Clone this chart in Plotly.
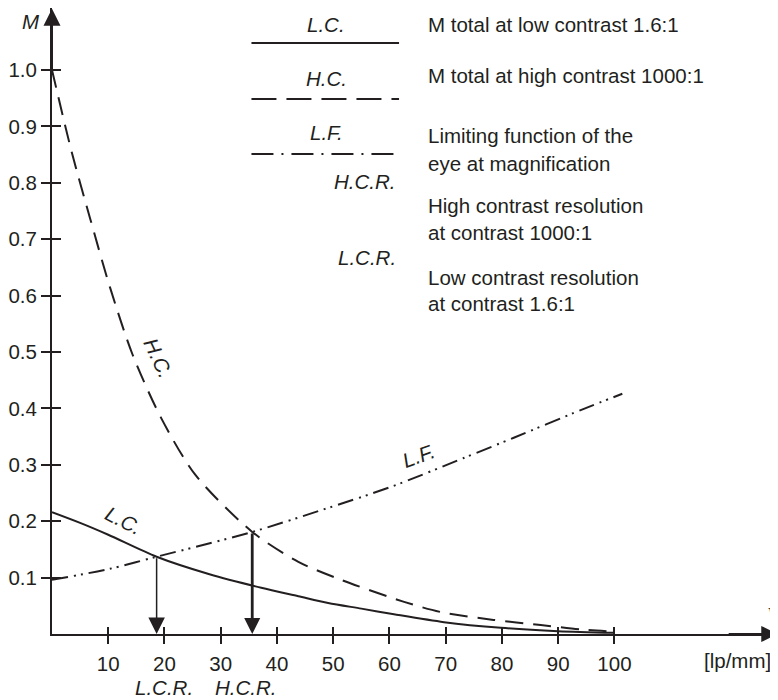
import plotly.graph_objects as go

# ---------------- data ----------------
# L.C.: M total at low contrast 1.6:1
lc_x = [0, 5, 10, 18.6, 28, 37.2, 43.8, 49.1, 55, 60.8, 69.7, 79.8, 90, 100]
lc_y = [0.216, 0.197, 0.176, 0.137, 0.106, 0.082, 0.067, 0.055, 0.045, 0.035, 0.021, 0.011, 0.005, 0.002]

# H.C.: M total at high contrast 1000:1
hc_x = [0, 3.49, 6.8, 10.3, 14.3, 19.3, 25.5, 35.6, 43.8, 51.4, 62.6, 69.1, 78.5, 86.9, 94, 100]
hc_y = [1.0, 0.855, 0.736, 0.615, 0.496, 0.385, 0.282, 0.181, 0.128, 0.096, 0.057, 0.039, 0.025, 0.016, 0.008, 0.004]

# L.F.: limiting function of the eye at magnification
lf_x = [0, 10, 18.6, 35.6, 48, 60.3, 73.2, 82.1, 94, 101.4]
lf_y = [0.096, 0.115, 0.137, 0.181, 0.220, 0.261, 0.312, 0.348, 0.397, 0.426]

# resolution limits (intersections)
lcr_x, lcr_y = 18.6, 0.137
hcr_x, hcr_y = 35.6, 0.181

x_ticks = [10, 20, 30, 40, 50, 60, 70, 80, 90, 100]
y_ticks = [0.1, 0.2, 0.3, 0.4, 0.5, 0.6, 0.7, 0.8, 0.9, 1.0]
y_tick_text = ["0.1", "0.2", "0.3", "0.4", "0.5", "0.6", "0.7", "0.8", "0.9", "1.0"]

legend_rows = [
    ("L.C.", "solid", ["M total at low contrast 1.6:1"]),
    ("H.C.", "dash", ["M total at high contrast 1000:1"]),
    ("L.F.", "dashdot", ["Limiting function of the", "eye at magnification"]),
    ("H.C.R.", None, ["High contrast resolution", "at contrast 1000:1"]),
    ("L.C.R.", None, ["Low contrast resolution", "at contrast 1.6:1"]),
]

# ---------------- layout geometry ----------------
OFF = 8                      # page body margin in the browser
W, H = 778 - OFF, 700 - OFF  # figure size
L, R, T, B = 50 - OFF, 0, 0, 700 - 634
X_MAX = (W - L - R) / 5.64
Y_MAX = (H - T - B) / 564.0
INK = "#231f20"
FONT = "Liberation Sans, Arial, Helvetica, sans-serif"
FS = 20.5


def pp(px, py):
    """screen pixel -> paper coordinates"""
    fx, fy = px - OFF, py - OFF
    return (fx - L) / (W - L - R), (H - B - fy) / (H - T - B)


fig = go.Figure()

fig.add_trace(go.Scatter(x=lc_x, y=lc_y, mode="lines", line=dict(color=INK, width=2, shape="spline", smoothing=0.8),
                         hoverinfo="skip", showlegend=False, cliponaxis=False))
fig.add_trace(go.Scatter(x=hc_x, y=hc_y, mode="lines", line=dict(color=INK, width=2, dash="18px,10px", shape="spline", smoothing=0.8),
                         hoverinfo="skip", showlegend=False, cliponaxis=False))
fig.add_trace(go.Scatter(x=lf_x, y=lf_y, mode="lines",
                         line=dict(color=INK, width=2, dash="16px,6px,2px,5px,2px,6px", shape="spline", smoothing=0.8),
                         hoverinfo="skip", showlegend=False, cliponaxis=False))
# invisible trace to realise the overlaid tick axes
fig.add_trace(go.Scatter(x=[lc_x[0]], y=[lc_y[0]], xaxis="x2", yaxis="y2", mode="markers",
                         marker=dict(opacity=0), hoverinfo="skip", showlegend=False))

axis_common = dict(showgrid=False, zeroline=False, tickcolor=INK, tickwidth=2,
                   tickfont=dict(family=FONT, size=FS, color=INK))
fig.update_layout(
    width=W, height=H, autosize=False,
    margin=dict(l=L, r=R, t=T, b=B, pad=0),
    plot_bgcolor="white", paper_bgcolor="white",
    xaxis=dict(range=[0, X_MAX], tickvals=x_ticks, ticktext=[str(v) for v in x_ticks],
               ticks="outside", ticklen=8, showline=True, linecolor=INK, linewidth=2,
               ticklabelstandoff=2, **axis_common),
    yaxis=dict(range=[0, Y_MAX], tickvals=y_ticks, ticktext=y_tick_text,
               ticks="outside", ticklen=9, showline=True, linecolor=INK, linewidth=2,
               ticklabelstandoff=0, **axis_common),
    xaxis2=dict(range=[0, X_MAX], overlaying="x", anchor="y2", side="bottom", tickvals=x_ticks,
                ticks="inside", ticklen=7, showticklabels=False, showline=False, **axis_common),
    yaxis2=dict(range=[0, Y_MAX], overlaying="y", anchor="x2", side="left", tickvals=y_ticks,
                ticks="inside", ticklen=9, showticklabels=False, showline=False, **axis_common),
)

ann = []
# axis arrowheads
ann.append(dict(x=0, y=Y_MAX * 0.999, ax=0, ay=Y_MAX * 0.9, xref="x", yref="y", axref="x", ayref="y",
                showarrow=True, arrowhead=2, arrowsize=1.7, arrowwidth=2, arrowcolor=INK, text=""))
ann.append(dict(x=X_MAX * 0.999, y=0, ax=X_MAX * 0.93, ay=0, xref="x", yref="y", axref="x", ayref="y",
                showarrow=True, arrowhead=2, arrowsize=1.6, arrowwidth=2, arrowcolor=INK, text=""))
# resolution arrows
ann.append(dict(x=lcr_x, y=0, ax=lcr_x, ay=lcr_y, xref="x", yref="y", axref="x", ayref="y",
                showarrow=True, arrowhead=2, arrowsize=2.2, arrowwidth=1.5, arrowcolor=INK, text=""))
ann.append(dict(x=hcr_x, y=0, ax=hcr_x, ay=hcr_y, xref="x", yref="y", axref="x", ayref="y",
                showarrow=True, arrowhead=2, arrowsize=1.15, arrowwidth=2.8, arrowcolor=INK, text=""))


def text(px, py, s, anchor="center", italic=False, angle=0, size=FS, family=FONT):
    x, y = pp(px, py)
    ann.append(dict(x=x, y=y, xref="paper", yref="paper", text=("<i>%s</i>" % s) if italic else s,
                    showarrow=False, xanchor=anchor, yanchor="middle", textangle=angle,
                    font=dict(family=family, size=size, color=INK)))


# axis titles
text(29, 22, "M", italic=True)
text(766, 610, "ν", anchor="left", italic=True, family="Liberation Serif, serif", size=22)
text(737, 660, "[lp/mm]")
text(162, 688, "L.C.R.", italic=True)
text(245, 688, "H.C.R.", italic=True)

# curve labels (data positions)
for lx, ly, s, a in [(19.0, 0.489, "H.C.", 65), (12.8, 0.202, "L.C.", 27), (65.2, 0.317, "L.F.", -20)]:
    ann.append(dict(x=lx, y=ly, xref="x", yref="y", text="<i>%s</i>" % s, showarrow=False,
                    textangle=a, font=dict(family=FONT, size=FS, color=INK)))

# custom legend
label_y = [24, 78, 133, 182, 257]
line_y = [43, 99, 154]
desc_y = [[24], [76], [135, 163], [205, 232], [277, 303]]
dash_styles = {"solid": "solid", "dash": "25px,10px", "dashdot": "22px,8px,2px,8px"}
shapes = []
for i, (lab, style, desc) in enumerate(legend_rows):
    if style is not None:
        text(325, label_y[i], lab, italic=True)
        x0, y0 = pp(250, line_y[i])
        x1, _ = pp(398, line_y[i])
        shapes.append(dict(type="line", xref="paper", yref="paper", x0=x0, x1=x1, y0=y0, y1=y0,
                           line=dict(color=INK, width=2, dash=dash_styles[style])))
    else:
        text(397, label_y[i], lab, anchor="right", italic=True)
    for j, d in enumerate(desc):
        text(425, desc_y[i][j], d, anchor="left")

fig.update_layout(annotations=ann, shapes=shapes)
fig.write_html("out.html")
